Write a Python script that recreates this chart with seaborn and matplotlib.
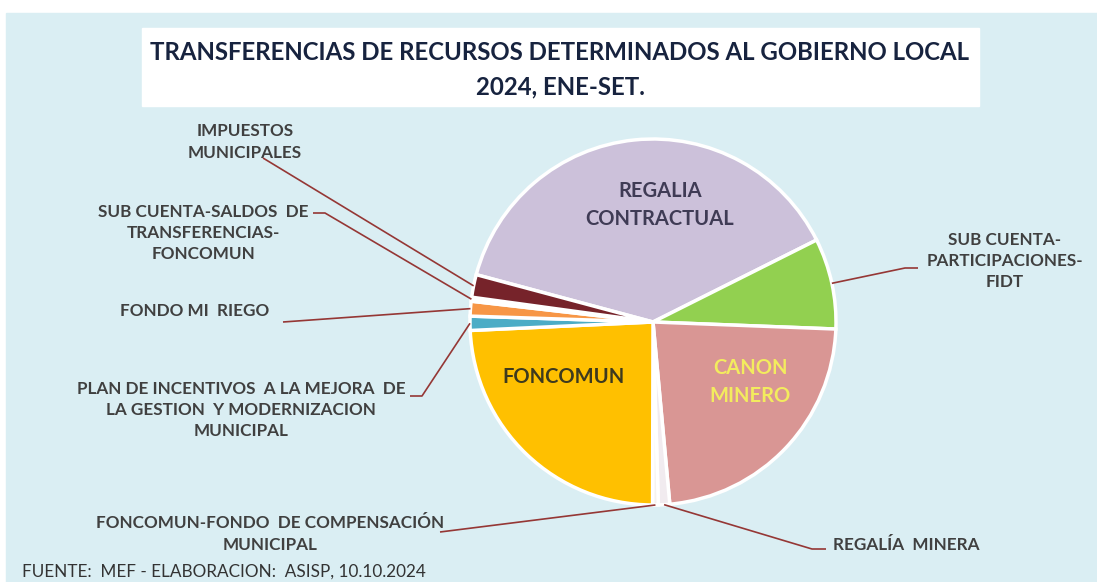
import numpy as np
import matplotlib
matplotlib.use('Agg')
import matplotlib.pyplot as plt
from matplotlib.patches import Rectangle
import seaborn as sns

# data: share of each transfer (%), clockwise from the top-left
categories = ['REGALIA CONTRACTUAL', 'SUB CUENTA-PARTICIPACIONES-FIDT', 'CANON MINERO',
              'REGALÍA MINERA', 'FONCOMUN-FONDO DE COMPENSACIÓN MUNICIPAL', 'FONCOMUN',
              'PLAN DE INCENTIVOS A LA MEJORA DE LA GESTION Y MODERNIZACION MUNICIPAL',
              'FONDO MI RIEGO', 'SUB CUENTA-SALDOS DE TRANSFERENCIAS-FONCOMUN',
              'IMPUESTOS MUNICIPALES']
shares = [38.4, 8.0, 22.9, 1.0, 0.5, 24.2, 1.25, 1.3, 0.35, 2.0]
labels = ['REGALIA\nCONTRACTUAL', 'SUB CUENTA-\nPARTICIPACIONES-\nFIDT', 'CANON\nMINERO',
          'REGALÍA  MINERA', 'FONCOMUN-FONDO  DE COMPENSACIÓN\nMUNICIPAL', 'FONCOMUN',
          'PLAN DE INCENTIVOS  A LA MEJORA  DE\nLA GESTION  Y MODERNIZACION\nMUNICIPAL',
          'FONDO MI  RIEGO', 'SUB CUENTA-SALDOS  DE\nTRANSFERENCIAS-\nFONCOMUN',
          'IMPUESTOS\nMUNICIPALES']
colors = ['#CCC1DA', '#92D050', '#D99694', '#F1EBEF', '#F6F2EE', '#FFC000',
          '#4BACC6', '#F79646', '#FFFFFF', '#76232A']

title = 'TRANSFERENCIAS DE RECURSOS DETERMINADOS AL GOBIERNO LOCAL\n2024, ENE-SET.'
source = 'FUENTE:  MEF - ELABORACION:  ASISP, 10.10.2024'

sns.set_style('white')
plt.rcParams['font.family'] = ['Lato', 'DejaVu Sans']

W, H = 1097, 582
CX, CY, R = 653, 322, 183


def P(x, y):
    # pixel position (from top-left) -> data units, pie radius = 1
    return (x - CX) / R, (CY - y) / R


fig = plt.figure(figsize=(W / 100, H / 100), dpi=100)
ax = fig.add_axes([0, 0, 1, 1])

# background panel and title box
x0, y0 = P(6, 582)
x1, y1 = P(1097, 13)
ax.add_patch(Rectangle((x0, y0), x1 - x0, y1 - y0, color='#DAEEF3', zorder=0))
x0, y0 = P(142, 106)
x1, y1 = P(979, 28)
ax.add_patch(Rectangle((x0, y0), x1 - x0, y1 - y0, color='white', zorder=1))

wedges, _ = ax.pie(shares, colors=colors, startangle=165, counterclock=False,
                   radius=1, center=(0, 0), frame=True,
                   wedgeprops=dict(edgecolor='white', linewidth=2.5))
for w in wedges:
    w.set_zorder(2)
ax.set_xlim(P(0, 0)[0], P(W, 0)[0])
ax.set_ylim(P(0, H)[1], P(0, 0)[1])
ax.set_aspect('auto')
ax.axis('off')

ax.text(*P(560, 70), title, ha='center', va='center', fontsize=17.3,
        fontweight='bold', color='#17233F', linespacing=1.6, zorder=3)

# labels inside the big slices
inside = {0: ((660, 205), '#3F3B55'), 2: ((750, 382), '#F3EC5E'),
          5: ((564, 377), '#3E3A1E')}
for i, ((x, y), c) in inside.items():
    ax.text(*P(x, y), labels[i], ha='center', va='center', fontsize=14.5,
            fontweight='bold', color=c, linespacing=1.45, zorder=3)

# outer labels: text position, alignment, elbow points of the leader line
outer = {
    9: ((245, 142), 'center', [(263, 158)]),
    8: ((203, 233), 'center', [(313, 213), (325, 213)]),
    7: ((195, 311), 'center', [(283, 322)]),
    6: ((241, 410), 'center', [(410, 396), (422, 396)]),
    4: ((270, 534), 'center', [(440, 532)]),
    3: ((833, 545), 'left', [(826, 549), (812, 549)]),
    1: ((1005, 261), 'center', [(918, 268), (905, 268)]),
}
for i, ((x, y), ha, elbow) in outer.items():
    ax.text(*P(x, y), labels[i], ha=ha, va='center', fontsize=12.3,
            fontweight='bold', color='#404040', linespacing=1.4, zorder=3)
    w = wedges[i]
    mid = np.deg2rad((w.theta1 + w.theta2) / 2)
    pts = [P(px, py) for px, py in elbow] + [(np.cos(mid), np.sin(mid))]
    ax.plot([p[0] for p in pts], [p[1] for p in pts], color='#953735',
            lw=1.2, zorder=3, solid_capstyle='butt')

ax.text(*P(22, 580), source, ha='left', va='bottom', fontsize=12.3,
        color='#333333', zorder=3)

plt.savefig('out.png', dpi=100)
